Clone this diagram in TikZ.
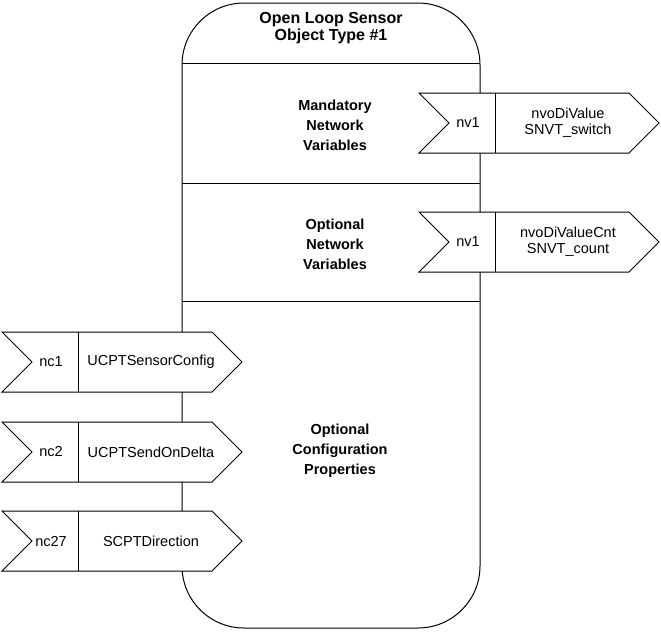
\documentclass[tikz,border=0pt]{standalone}
\usepackage{fontspec}
\setmainfont{Liberation Sans}
\usepackage{tikz}
\usetikzlibrary{positioning}

% one network variable / config property pin: name, left x, top y, tag, text
\newcommand{\datapin}[5]{%
  \draw[pinline, fill=white] (#2,#3) -- ++(30,30) -- ++(-30,30) -- ++(210,0) -- ++(30,-30) -- ++(-30,-30) -- cycle;
  \draw[pinline] (#2+76,#3) -- ++(0,60);
  \node[pintag] (#1-tag) at (#2+49,#3+30) {#4};
  \node[pintext] (#1-text) at (#2+149,#3+30) {#5};
}

\begin{document}
\begin{tikzpicture}[x=1pt, y=-1pt,
  pinline/.style={line width=1pt, line join=miter},
  pintag/.style={inner sep=0pt, font=\fontsize{14.5}{16}\selectfont},
  pintext/.style={inner sep=0pt, align=center, font=\fontsize{14.5}{16}\selectfont},
  seclabel/.style={inner sep=0pt, align=center, font=\fontsize{14.5}{20}\selectfont\bfseries}]
\useasboundingbox (0,0) rectangle (661,632);
% Object body
\draw[line width=1pt, rounded corners=62pt] (182,3) rectangle (480,628);
\draw[line width=1pt] (182,63) -- (480,63);
\draw[line width=1pt] (182,183) -- (480,183);
\draw[line width=1pt] (182,301) -- (480,301);
% Labels
\node[inner sep=0pt, align=center, font=\fontsize{16}{17}\selectfont\bfseries] (title) at (331,28.5) {Open Loop Sensor\\Object Type \#1};
\node[seclabel] (mandnv) at (335,125) {Mandatory\\Network\\Variables};
\node[seclabel] (optnv) at (335,244) {Optional\\Network\\Variables};
\node[seclabel] (optcp) at (340,451) {Optional\\Configuration\\Properties};
% Network variables
\datapin{divalue}{419}{93}{nv1}{nvoDiValue\\SNVT\_switch}
\datapin{dicount}{419}{212}{nv1}{nvoDiValueCnt\\SNVT\_count}
% Configuration properties
\datapin{sensorcfg}{2}{332}{nc1}{UCPTSensorConfig}
\datapin{senddelta}{2}{422}{nc2}{UCPTSendOnDelta}
\datapin{direction}{2}{511}{nc27}{SCPTDirection}
\end{tikzpicture}
\end{document}
